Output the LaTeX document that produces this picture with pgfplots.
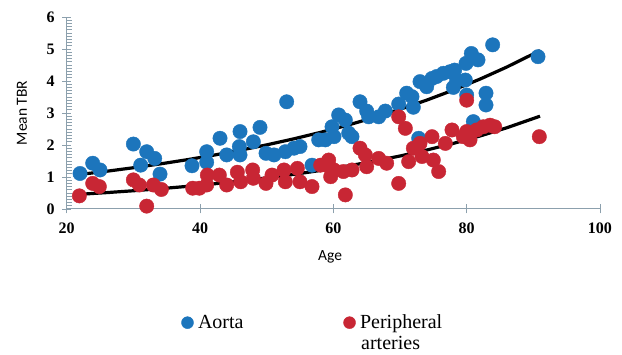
\documentclass[border=0pt]{standalone}
\usepackage{fontspec}
\setmainfont{Liberation Serif}
\newfontfamily\calibri{Carlito}
\usepackage{pgfplots}
\pgfplotsset{compat=1.18}
\definecolor{aorta}{RGB}{28,117,188}
\definecolor{peri}{RGB}{200,38,52}
\definecolor{axgray}{RGB}{140,160,173}
\begin{document}
\begin{tikzpicture}
\useasboundingbox (0,0) rectangle (622pt,355pt);
\begin{axis}[
  at={(66.7pt,146pt)}, anchor=south west,
  scale only axis, width=533.3pt, height=192pt,
  xmin=20, xmax=100, ymin=0, ymax=6,
  axis x line=bottom, axis y line=left,
  axis line style={-, axgray, line width=1pt},
  xtick={20,40,60,80,100}, ytick={0,1,2,3,4,5,6},
  minor y tick num=9,
  tick align=center,
  major tick length=9pt, minor tick length=5pt,
  tick style={axgray, line width=0.8pt},
  minor tick style={xshift=2.5pt},
  clip=false,
  /pgf/number format/assume math mode=true,
  ticklabel style={font=\fontsize{16}{16}\selectfont\bfseries, black},
  xticklabel style={yshift=-6pt},
  yticklabel style={xshift=-4pt},
  label style={font=\calibri\fontsize{15.5}{18}\selectfont},
  xlabel={Age}, ylabel={Mean TBR},
  xlabel style={at={(axis description cs:0.494,-0.25)}, anchor=center},
  ylabel style={at={(axis description cs:-0.0838,0.5)}, anchor=center},
  legend columns=2,
  legend cell align=left,
  legend image code/.code={\draw[#1, mark size=6pt] plot coordinates {(0pt,0pt)};},
  legend style={at={(axis description cs:0.2149,-0.592)}, anchor=west,
    draw=none, fill=none, inner sep=0pt,
    nodes={inner sep=0pt, font=\fontsize{20}{24}\selectfont},
    /tikz/every odd column/.append style={column sep=4.5pt},
    /tikz/every even column/.append style={column sep=100pt}},
]
\addplot[only marks, mark=*, mark size=7.2pt, color=aorta, mark options={fill=aorta, draw=aorta}] coordinates {
(22.0,1.11) (23.9,1.43) (25.0,1.22) (30.0,2.03) (31.1,1.37) (32.0,1.79)
(33.2,1.58) (34.0,1.09) (38.8,1.35) (41.0,1.79) (41.0,1.46) (43.0,2.21)
(44.0,1.69) (46.0,2.42) (45.9,1.95) (46.0,1.69) (48.0,2.10) (49.0,2.55)
(49.9,1.74) (51.1,1.69) (53.0,3.35) (52.8,1.79) (54.1,1.90) (55.0,1.95)
(56.8,1.37) (57.8,2.16) (58.8,2.16) (59.8,2.57) (60.1,2.26) (60.8,2.94)
(61.8,2.78) (62.3,2.37) (62.8,2.26) (64.0,3.35) (65.0,3.06) (65.3,2.88)
(66.8,2.88) (67.8,3.06) (69.8,3.28) (71.0,3.62) (71.8,3.51) (72.0,3.18)
(72.8,2.21) (73.0,3.98) (74.0,3.82) (74.8,4.08) (75.5,4.14) (76.5,4.24)
(77.5,4.29) (78.2,4.34) (78.0,3.80) (78.5,4.03) (79.8,4.03) (79.9,4.55)
(80.7,4.86) (81.7,4.66) (83.9,5.13) (90.7,4.76) (80.0,3.56) (82.9,3.62)
(82.9,3.25) (81.0,2.73)
};
\addlegendentry{Aorta}
\addplot[only marks, mark=*, mark size=7.2pt, color=peri, mark options={fill=peri, draw=peri}] coordinates {
(21.9,0.41) (23.9,0.80) (24.9,0.70) (30.0,0.91) (30.9,0.75) (32.0,0.09)
(33.0,0.75) (34.2,0.61) (38.9,0.65) (39.9,0.65) (41.1,1.06) (41.0,0.75)
(42.9,1.06) (44.0,0.75) (45.6,1.15) (46.1,0.85) (47.9,1.22) (48.0,0.96)
(49.9,0.80) (50.8,1.06) (52.6,1.22) (52.8,0.85) (54.6,1.27) (55.0,0.85)
(56.8,0.70) (58.1,1.37) (59.6,1.27) (59.6,1.01) (59.3,1.53) (60.1,1.22)
(61.5,1.17) (61.8,0.44) (62.8,1.22) (64.0,1.90) (64.8,1.69) (65.0,1.32)
(66.8,1.58) (68.0,1.43) (69.8,2.88) (70.8,2.52) (69.8,0.80) (71.3,1.48)
(72.0,1.90) (73.0,2.05) (73.3,1.64) (74.8,2.26) (75.0,1.53) (75.8,1.17)
(76.8,2.05) (77.8,2.47) (79.5,2.26) (80.0,3.40) (80.0,2.42) (80.5,2.16)
(81.5,2.47) (82.5,2.57) (83.5,2.62) (84.2,2.57) (90.9,2.26)
};
\addlegendentry{Peripheral}
\addplot[black, line width=3.2pt, no marks, forget plot] coordinates {
(22,1.080) (26,1.180) (30,1.289) (34,1.408) (38,1.538) (42,1.680)
(46,1.835) (50,2.004) (54,2.189) (58,2.391) (62,2.611) (66,2.852)
(70,3.115) (74,3.402) (78,3.716) (82,4.059) (86,4.434) (91,4.950)
};
\addplot[black, line width=3.2pt, no marks, forget plot] coordinates {
(22,0.460) (26,0.512) (30,0.570) (34,0.634) (38,0.705) (42,0.784)
(46,0.873) (50,0.971) (54,1.080) (58,1.202) (62,1.338) (66,1.488)
(70,1.656) (74,1.842) (78,2.050) (82,2.281) (86,2.537) (91,2.900)
};
\end{axis}
\node[anchor=base west, inner sep=0pt, font=\fontsize{20}{24}\selectfont] at (361pt,5pt) {arteries};
\end{tikzpicture}
\end{document}
